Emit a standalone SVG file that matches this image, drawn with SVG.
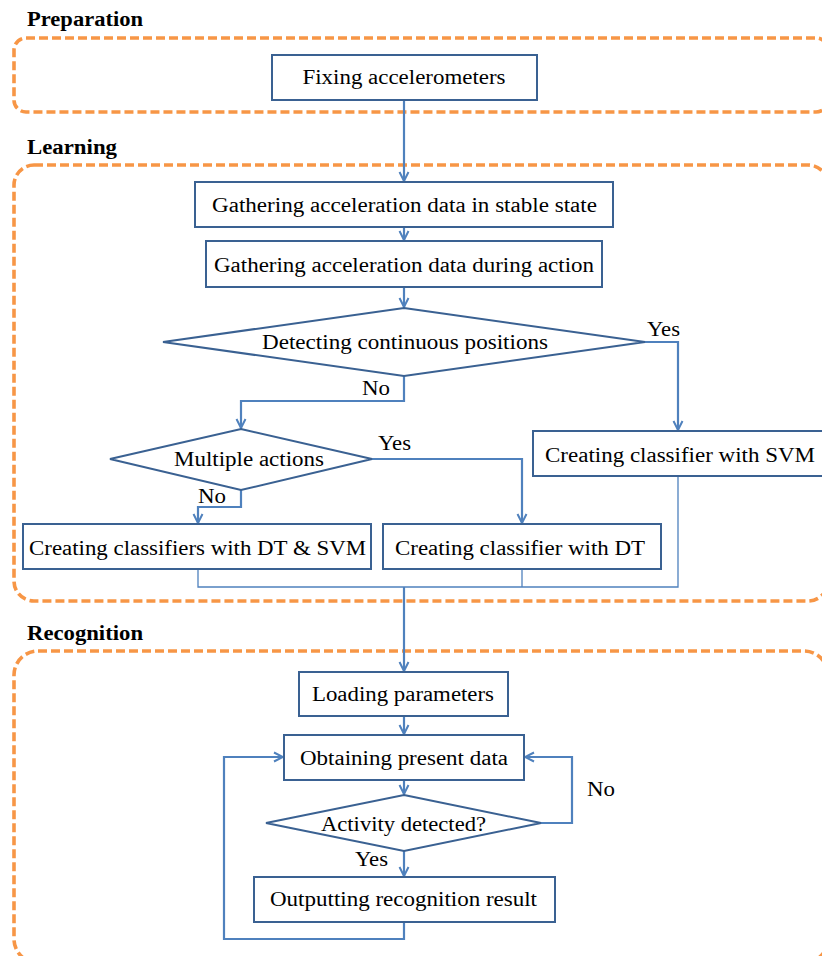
<svg xmlns="http://www.w3.org/2000/svg" width="822" height="956" viewBox="0 0 822 956">
  <style>
    .phase { fill: none; stroke: #F79646; stroke-width: 3.6; stroke-dasharray: 9 4; }
    .title { font-weight: bold; font-size: 20px; fill: #000; }
    .box { fill: #fff; stroke: #3A6192; stroke-width: 2; }
    .lbl { font-size: 20px; fill: #000; text-anchor: middle; }
    .cap { font-size: 20px; fill: #000; }
    .flow { fill: none; stroke: #4F81BD; stroke-width: 2.2; }
    .thin { fill: none; stroke: #4F81BD; stroke-width: 1.3; }
  </style>
  <defs>
    <marker id="arrow" viewBox="0 0 12 12" refX="11" refY="6" markerWidth="12" markerHeight="12" markerUnits="userSpaceOnUse" orient="auto">
      <path d="M2,1.5 L11,6 L2,10.5" fill="none" stroke="#4F81BD" stroke-width="2"/>
    </marker>
  </defs>

  <rect width="822" height="956" fill="#fff"/>

  <g font-family="Liberation Serif, Times New Roman, Times, serif">
  <!-- phase frames -->
  <g id="phase-preparation">
    <text class="title" x="27" y="26" textLength="116" lengthAdjust="spacingAndGlyphs">Preparation</text>
    <rect class="phase" x="14" y="38" width="814" height="74" rx="12"/>
  </g>
  <g id="phase-learning">
    <text class="title" x="27" y="154" textLength="90" lengthAdjust="spacingAndGlyphs">Learning</text>
    <rect class="phase" x="14" y="165" width="814" height="436" rx="20"/>
  </g>
  <g id="phase-recognition">
    <text class="title" x="27" y="640" textLength="116" lengthAdjust="spacingAndGlyphs">Recognition</text>
    <rect class="phase" x="14" y="651" width="814" height="312" rx="24"/>
  </g>

  <!-- connectors -->
  <g id="connectors">
    <path class="flow" d="M404,100 V181" marker-end="url(#arrow)"/>
    <path class="flow" d="M404,227 V240" marker-end="url(#arrow)"/>
    <path class="flow" d="M404,287 V307" marker-end="url(#arrow)"/>
    <path class="flow" d="M645,342 H678 V430" marker-end="url(#arrow)"/>
    <path class="flow" d="M404,376 V401 H241 V428" marker-end="url(#arrow)"/>
    <path class="flow" d="M372,459 H522 V523" marker-end="url(#arrow)"/>
    <path class="flow" d="M241,490 V507 H198 V523" marker-end="url(#arrow)"/>
    <path class="thin" d="M198,569 V587 H678 V476"/>
    <path class="thin" d="M522,569 V587"/>
    <path class="flow" d="M404,587 V671" marker-end="url(#arrow)"/>
    <path class="flow" d="M404,716 V734" marker-end="url(#arrow)"/>
    <path class="flow" d="M404,780 V794" marker-end="url(#arrow)"/>
    <path class="flow" d="M541,823 H572 V757 H525" marker-end="url(#arrow)"/>
    <path class="flow" d="M404,851 V876" marker-end="url(#arrow)"/>
    <path class="flow" d="M404,922 V939 H224 V757 H283" marker-end="url(#arrow)"/>
    <text class="cap" x="647" y="336" textLength="33" lengthAdjust="spacingAndGlyphs">Yes</text>
    <text class="cap" x="362" y="395" textLength="28" lengthAdjust="spacingAndGlyphs">No</text>
    <text class="cap" x="378" y="450" textLength="33" lengthAdjust="spacingAndGlyphs">Yes</text>
    <text class="cap" x="198" y="503" textLength="28" lengthAdjust="spacingAndGlyphs">No</text>
    <text class="cap" x="587" y="796" textLength="28" lengthAdjust="spacingAndGlyphs">No</text>
    <text class="cap" x="355" y="866" textLength="33" lengthAdjust="spacingAndGlyphs">Yes</text>
  </g>

  <!-- nodes -->
  <g id="fixing">
    <rect class="box" x="272" y="55" width="265" height="45"/>
    <text class="lbl" x="404" y="84" textLength="203" lengthAdjust="spacingAndGlyphs">Fixing accelerometers</text>
  </g>
  <g id="gather-stable">
    <rect class="box" x="195" y="182" width="418" height="45"/>
    <text class="lbl" x="404.5" y="212" textLength="385" lengthAdjust="spacingAndGlyphs">Gathering acceleration data in stable state</text>
  </g>
  <g id="gather-action">
    <rect class="box" x="206" y="241" width="396" height="46"/>
    <text class="lbl" x="404" y="272" textLength="380" lengthAdjust="spacingAndGlyphs">Gathering acceleration data during action</text>
  </g>
  <g id="detect-continuous">
    <polygon class="box" points="404,308 645,342 404,376 163,342"/>
    <text class="lbl" x="405" y="349" textLength="286" lengthAdjust="spacingAndGlyphs">Detecting continuous positions</text>
  </g>
  <g id="classifier-svm">
    <rect class="box" x="533" y="431" width="300" height="45"/>
    <text class="lbl" x="680" y="462" textLength="270" lengthAdjust="spacingAndGlyphs">Creating classifier with SVM</text>
  </g>
  <g id="multiple-actions">
    <polygon class="box" points="241,429 372,459 241,490 110,459"/>
    <text class="lbl" x="249" y="466" textLength="150" lengthAdjust="spacingAndGlyphs">Multiple actions</text>
  </g>
  <g id="classifiers-dt-svm">
    <rect class="box" x="23" y="524" width="348" height="45"/>
    <text class="lbl" x="197.5" y="555" textLength="337" lengthAdjust="spacingAndGlyphs">Creating classifiers with DT &amp; SVM</text>
  </g>
  <g id="classifier-dt">
    <rect class="box" x="383" y="524" width="278" height="45"/>
    <text class="lbl" x="520" y="555" textLength="250" lengthAdjust="spacingAndGlyphs">Creating classifier with DT</text>
  </g>
  <g id="loading">
    <rect class="box" x="299" y="672" width="209" height="44"/>
    <text class="lbl" x="403" y="701" textLength="182" lengthAdjust="spacingAndGlyphs">Loading parameters</text>
  </g>
  <g id="obtaining">
    <rect class="box" x="284" y="735" width="240" height="45"/>
    <text class="lbl" x="404" y="765" textLength="208" lengthAdjust="spacingAndGlyphs">Obtaining present data</text>
  </g>
  <g id="activity-detected">
    <polygon class="box" points="404,795 541,823 404,851 266,823"/>
    <text class="lbl" x="403.5" y="831" textLength="165" lengthAdjust="spacingAndGlyphs">Activity detected?</text>
  </g>
  <g id="outputting">
    <rect class="box" x="254" y="877" width="301" height="45"/>
    <text class="lbl" x="403.5" y="906" textLength="267" lengthAdjust="spacingAndGlyphs">Outputting recognition result</text>
  </g>
  </g>
</svg>
